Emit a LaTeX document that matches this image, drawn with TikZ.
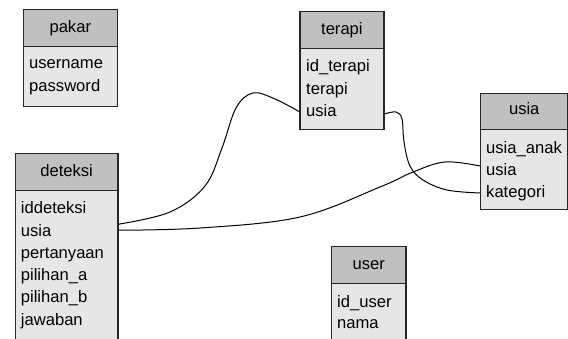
\documentclass[tikz,border=0pt]{standalone}
\usepackage{fontspec}
\setmainfont{Liberation Sans}
\usetikzlibrary{calc}
\definecolor{hdrgray}{HTML}{C0C0C0}
\definecolor{bodygray}{HTML}{E6E6E6}
\definecolor{edgecol}{HTML}{262626}
\begin{document}
\begin{tikzpicture}[x=1pt,y=-1pt,font=\fontsize{16.6}{20}\selectfont,
  hdr/.style={draw=edgecol,fill=hdrgray,line width=1.2pt,inner sep=0pt,anchor=north west},
  bodybox/.style={draw=edgecol,fill=bodygray,line width=1.2pt,inner sep=0pt,anchor=north west},
  row/.style={inner sep=0pt,anchor=base west},
  title/.style={inner sep=0pt,anchor=base},
  link/.style={draw=black,line width=1pt}]
\useasboundingbox (0,0) rectangle (568,339);
\clip (0,0) rectangle (568,339);
% pakar
\node[hdr,minimum width=94pt,minimum height=36.7pt] (pakar) at (22.7,9) {};
\node[bodybox,minimum width=94pt,minimum height=60pt] (pakar-b) at (22.7,45.7) {};
\node[title] (pakar-t) at (pakar.center |- 0,32.4) {pakar};
\node[row] (pakar-1) at (29,69) {username};
\node[row] (pakar-2) at (29,91.5) {password};
% terapi
\node[hdr,minimum width=84pt,minimum height=37.3pt] (terapi) at (299.3,11) {};
\node[bodybox,minimum width=84pt,minimum height=81pt] (terapi-b) at (299.3,48.3) {};
\node[title] (terapi-t) at (terapi.center |- 0,34.7) {terapi};
\node[row] (terapi-1) at (306,72) {id\_terapi};
\node[row] (terapi-2) at (306,94.5) {terapi};
\node[row] (terapi-3) at (306,117) {usia};
% usia
\node[hdr,minimum width=87.3pt,minimum height=36.3pt] (usia) at (480,92.7) {};
\node[bodybox,minimum width=87.3pt,minimum height=80.3pt] (usia-b) at (480,129) {};
\node[title] (usia-t) at (usia.center |- 0,115) {usia};
\node[row] (usia-1) at (486,153.5) {usia\_anak};
\node[row] (usia-2) at (486,175.5) {usia};
\node[row] (usia-3) at (486,197.5) {kategori};
% deteksi
\node[hdr,minimum width=102.6pt,minimum height=37.3pt] (deteksi) at (14.7,152.7) {};
\node[bodybox,minimum width=102.6pt,minimum height=160pt] (deteksi-b) at (14.7,190) {};
\node[title] (deteksi-t) at (deteksi.center |- 0,176.7) {deteksi};
\node[row] (deteksi-1) at (20.7,214) {iddeteksi};
\node[row] (deteksi-2) at (20.7,236.2) {usia};
\node[row] (deteksi-3) at (20.7,258.4) {pertanyaan};
\node[row] (deteksi-4) at (20.7,280.6) {pilihan\_a};
\node[row] (deteksi-5) at (20.7,302.8) {pilihan\_b};
\node[row] (deteksi-6) at (20.7,325) {jawaban};
% user
\node[hdr,minimum width=74.3pt,minimum height=37pt] (user) at (331,245.7) {};
\node[bodybox,minimum width=74.3pt,minimum height=100pt] (user-b) at (331,282.7) {};
\node[title] (user-t) at (user.center |- 0,269.3) {user};
\node[row] (user-1) at (337,307.3) {id\_user};
\node[row] (user-2) at (337,329) {nama};
% connector end points
\coordinate (l1s) at ($(deteksi-b.east |- deteksi-2.base)+(0,-12)$);
\coordinate (l2s) at ($(deteksi-b.east |- deteksi-2.base)+(0,-6)$);
\coordinate (l1e) at ($(terapi-b.west |- terapi-3.base)+(0,-5.3)$);
\coordinate (l3s) at ($(terapi-b.east |- terapi-3.base)+(0,-3)$);
\coordinate (l2e) at ($(usia-b.west |- usia-2.base)+(0,-9.5)$);
\coordinate (l3e) at ($(usia-b.west |- usia-3.base)+(0,-4.5)$);
% connectors
\draw[link] plot[smooth,tension=0.6] coordinates {(l1s) (170,212) (205,186) (222,148) (236,108) (253,93) (275,99) (l1e)};
\draw[link] plot[smooth,tension=0.6] coordinates {(l2s) (200,228) (300,217) (380,187) (413,172) (445,162) (l2e)};
\draw[link] plot[smooth,tension=0.6] coordinates {(l3s) (396,112) (402,119) (404,142) (410,166) (423,180) (447,190) (l3e)};
\end{tikzpicture}
\end{document}
